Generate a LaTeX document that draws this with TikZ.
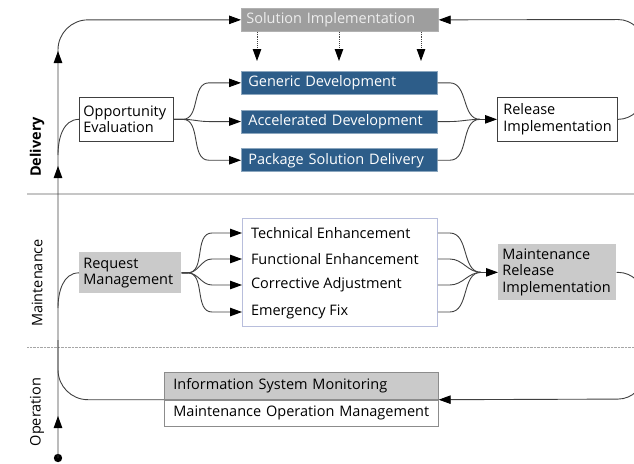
\documentclass[tikz,border=0pt]{standalone}
\usepackage{fontspec}
\setmainfont{Open Sans}
\usetikzlibrary{arrows.meta, calc, positioning}
\usetikzlibrary{decorations.markings}

\definecolor{devblue}{HTML}{2D5D89}
\definecolor{boxgray}{HTML}{CACACA}
\definecolor{solgray}{HTML}{9E9E9E}
\definecolor{edgeblue}{HTML}{B8BEDC}

\tikzset{
  txt/.style={font=\fontsize{14.5}{16.5}\selectfont},
  box/.style={txt, draw=black!75, line width=0.7pt, anchor=north west, align=left, inner ysep=0pt},
  devbox/.style={box, fill=devblue, draw=devblue!55, text=white, text width=182pt, inner xsep=7pt, minimum height=23pt},
  item/.style={txt, anchor=west, inner xsep=9pt, outer sep=0pt},
  lane/.style={rotate=90, font=\fontsize{14.5}{16}\selectfont},
  flow/.style={draw=black!75, line width=0.9pt},
  arr/.style={flow, -{Triangle[length=12pt,width=8.5pt,color=black]}},
  dotarr/.style={arr, densely dotted}
}

\begin{document}
\begin{tikzpicture}[x=1pt, y=-1pt]
\useasboundingbox (0,0) rectangle (634,463);
\clip (0,0) rectangle (634,463);

% lanes
\draw[gray!45, line width=1.2pt] (27,194) -- (634,194);
\draw[gray!70, densely dotted] (27,347) -- (634,347);
\node[lane, font=\fontsize{14.5}{16}\selectfont\bfseries] at (37,147) {Delivery};
\node[lane] at (37,283) {Maintenance};
\node[lane] at (37,412) {Operation};

% delivery
\node[box, fill=solgray, draw=solgray!80, text=white!93!black, text width=187pt, inner xsep=5pt, minimum height=23pt] (sol) at (241,8) {Solution Implementation};
\node[devbox] (gen) at (241,71) {Generic Development};
\node[devbox, below=15pt of gen] (acc) {Accelerated Development};
\node[devbox, below=15pt of acc] (pkg) {Package Solution Delivery};
\node[box, text width=86pt, inner xsep=4pt, minimum height=44pt] (opp) at (79,97) {Opportunity\\Evaluation};
\node[box, text width=108pt, inner xsep=6pt, minimum height=44pt] (rel) at (497,97) {Release\\Implementation};

% maintenance
\node[box, fill=boxgray, draw=none, text width=94pt, inner xsep=4pt, minimum height=41pt] (req) at (79,252) {Request\\Management};
\node[draw=edgeblue, line width=0.8pt, anchor=north west, minimum width=195pt, minimum height=108pt] (enh) at (242,218) {};
\node[item] (tech) at (242,233) {Technical Enhancement};
\node[item] (func) at (242,259) {Functional Enhancement};
\node[item] (corr) at (242,285) {Corrective Adjustment};
\node[item] (emer) at (242,312) {Emergency Fix};
\node[box, fill=boxgray, draw=none, text width=110pt, inner xsep=4pt, minimum height=56pt] (mrel) at (498,244) {Maintenance\\Release\\Implementation};

% operation
\node[box, fill=boxgray, draw=black!45, text width=256pt, inner xsep=9pt, minimum height=27pt] (ism) at (164,372) {Information System Monitoring};
\node[box, draw=black!45, text width=256pt, inner xsep=9pt, minimum height=26pt, below=0pt of ism] (mom) {Maintenance Operation Management};

% main line
\coordinate (start) at (58,458);
\coordinate (oppin) at (58,155);
\coordinate (reqin) at (58,308);
\coordinate (opsup) at (58,340);
\coordinate (rtop) at (644,19.5);
\coordinate (rbot) at (644,399);
\fill[black] (start) circle (4.2pt);
\draw[arr, rounded corners=30pt, postaction={decorate}, decoration={markings,
  mark=at position 42pt with {\arrow{Triangle[length=12pt,width=8.5pt,color=black]}},
  mark=at position 292pt with {\arrow{Triangle[length=12pt,width=8.5pt,color=black]}},
  mark=at position 407pt with {\arrow{Triangle[length=12pt,width=8.5pt,color=black]}}}]
  (start) |- (sol.west);
\draw[flow] (oppin) to[out=90,in=180] (opp.west);
\draw[flow] (reqin) to[out=90,in=180] (req.west);
\draw[flow, rounded corners=30pt] (ism.south west) -| (opsup);

% fans
\foreach \n in {gen,acc,pkg}
  \draw[arr] (opp.east) -- ++(9,0) to[out=0,in=180] ([xshift=-32pt]\n.west) -- (\n.west);
\foreach \n in {gen,acc,pkg}
  \draw[flow] (\n.east) -- ++(12,0) to[out=0,in=180] ([xshift=-17pt]rel.west);
\draw[arr] ([xshift=-17pt]rel.west) -- (rel.west);
\foreach \n in {tech,func,corr,emer}
  \draw[arr] (req.east) -- ++(6,0) to[out=0,in=180] ([xshift=-30pt]\n.west) -- (\n.west);
\foreach \n in {tech,func,corr,emer}
  \draw[flow] (enh.east |- \n) -- ++(12,0) to[out=0,in=180] ([xshift=-17pt]mrel.west);
\draw[arr] ([xshift=-17pt]mrel.west) -- (mrel.west);
\foreach \x in {16,98,180}
  \draw[dotarr] ([xshift=\x pt]sol.south west) -- ([xshift=\x pt,yshift=10pt]gen.north west);

% loop back on the right
\draw[arr, rounded corners=26pt] (rel.east) -| (rtop) -- (sol.east);
\draw[arr, rounded corners=26pt] (mrel.east) -| (rbot) -- (ism.south east);
\end{tikzpicture}
\end{document}
